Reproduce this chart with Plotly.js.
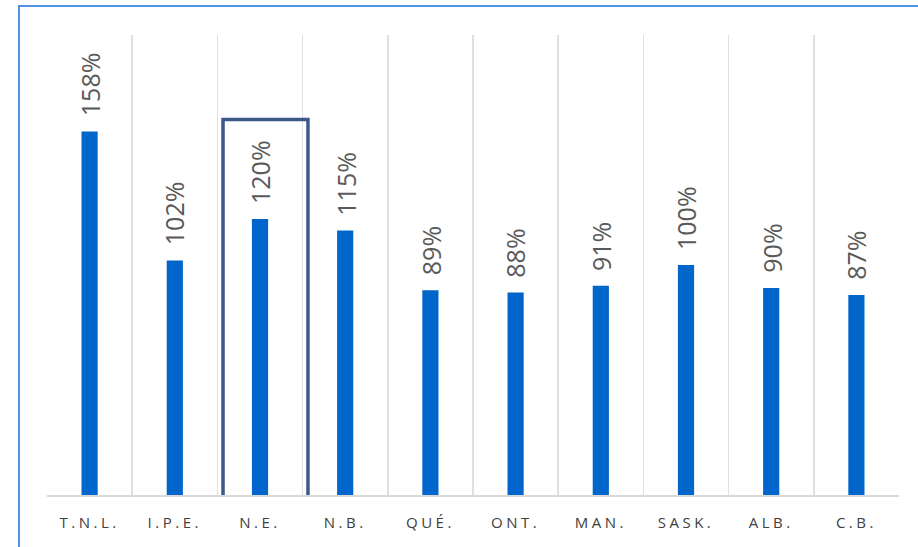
<!DOCTYPE html>
<html><head><meta charset="utf-8">
<script src="https://cdn.plot.ly/plotly-3.0.1.min.js"></script>
<style>
html,body{margin:0;padding:0;background:#fff;}
#chart{width:918px;height:547px;}
.xtick text{letter-spacing:3.5px;}
</style></head>
<body><div id="chart"></div>
<script>
const provinces = ["T.N.L.","I.P.E.","N.E.","N.B.","QUÉ.","ONT.","MAN.","SASK.","ALB.","C.B."];
const values = [158, 102, 120, 115, 89, 88, 91, 100, 90, 87];
const labels = values.map(v => v + "%");

const trace = {
  type: "bar",
  x: provinces,
  y: values,
  marker: {color: "#0066CC"},
  width: 0.19,
  hoverinfo: "skip"
};

const annotations = provinces.map((p, i) => ({
  x: p, y: values[i], xref: "x", yref: "y",
  text: labels[i], showarrow: false, textangle: -90,
  xanchor: "center", yanchor: "bottom", yshift: 13,
  font: {family: "Open Sans, sans-serif", size: 25, color: "#595959"}
}));

const layout = {
  width: 918, height: 547,
  margin: {l: 47, r: 19, t: 35, b: 52},
  paper_bgcolor: "#ffffff",
  plot_bgcolor: "#ffffff",
  showlegend: false,
  xaxis: {
    type: "category",
    tickson: "boundaries",
    showgrid: true, gridcolor: "#e0e0e0", gridwidth: 1.5,
    showline: true, linecolor: "#d9d9d9", linewidth: 1.5,
    ticks: "", ticklabelstandoff: 13,
    tickfont: {family: "Open Sans, sans-serif", size: 15, color: "#404040"},
    range: [-0.5, 9.5], fixedrange: true
  },
  yaxis: {
    range: [0, 200], visible: false, showgrid: false, zeroline: false, fixedrange: true
  },
  annotations: annotations,
  shapes: [
    {type: "rect", xref: "paper", yref: "paper", x0: -0.0329, x1: 1.05, y0: -0.3, y1: 1.063,
     line: {color: "#4f94e0", width: 2}, fillcolor: "rgba(0,0,0,0)", layer: "above"},
    {type: "rect", xref: "x", yref: "y", x0: 1.566, x1: 2.563, y0: -0.9, y1: 163.3,
     line: {color: "#3c5a88", width: 3.5}, fillcolor: "rgba(0,0,0,0)", layer: "above"}
  ]
};

Plotly.newPlot("chart", [trace], layout, {displayModeBar: false, staticPlot: true});
</script></body></html>
